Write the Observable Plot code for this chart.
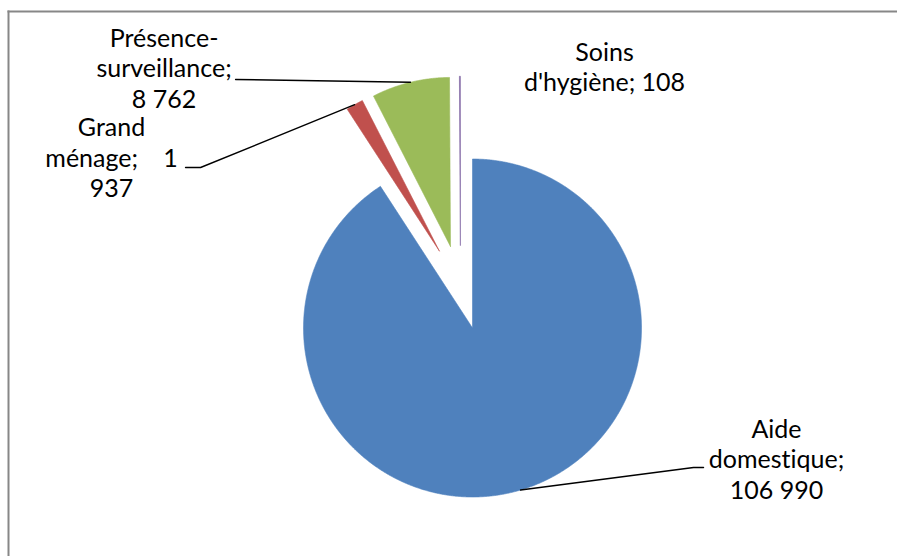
<!DOCTYPE html>
<html><head><meta charset="utf-8">
<script src="https://cdn.jsdelivr.net/npm/d3@7"></script>
<script src="https://cdn.jsdelivr.net/npm/@observablehq/plot@0.6"></script>
<style>body{margin:0;background:#fff;} svg text{font-variant-ligatures:none;font-feature-settings:"liga" 0;}</style>
</head><body><div id="chart"></div>
<script>
// ---- data ----
const categories = ["Aide domestique", "Grand ménage", "Présence-surveillance", "Soins d'hygiène"];
const values = [106990, 1937, 8762, 108];
const colors = ["#4F81BD", "#C0504D", "#9BBB59", "#8064A2"];
// words on each wrapped line of a data label
const lineWords = [[1, 1, 2], [1, 2, 1], [1, 1, 2], [1, 2]];
const wordGap = [" ", " \u2003", " ", " "];
// label placement in pie radii from pie centre (x right, y up): centre x, last baseline y
const labelX = [1.870, -2.065, -1.754, 0.852];
const labelY = [-1.249, 0.533, 1.065, 1.160];
// leader-line elbows in pie radii (from label side)
const leaderElbows = [[[1.438, -1.065], [1.379, -1.065]], [[-1.627, 0.710], [-1.538, 0.710]], [[-1.331, 1.231]], null];

// ---- layout ----
const W = 897, H = 556, R = 169, CX = 460, CY = 287, explode = 0.25;
const mTop = 11, mLeft = 8;
const fontFamily = "Lato, sans-serif", fontSize = 25, lineGap = 30.5;

const fmt = v => d3.format(",")(v).replace(/,/g, " ");
const arcs = d3.pie().sort(null)(values);

const slicePts = [];
const leaderPts = [];
arcs.forEach((a, i) => {
  const mid = (a.startAngle + a.endAngle) / 2;
  const ox = explode * Math.sin(mid), oy = explode * Math.cos(mid);
  const cat = categories[i];
  slicePts.push({cat, x: ox, y: oy});
  const n = Math.max(2, Math.ceil((a.endAngle - a.startAngle) / 0.005));
  for (let k = 0; k <= n; ++k) {
    const t = a.startAngle + (a.endAngle - a.startAngle) * k / n;
    slicePts.push({cat, x: ox + Math.sin(t), y: oy + Math.cos(t)});
  }
  slicePts.push({cat, x: ox, y: oy});
  if (leaderElbows[i]) {
    leaderElbows[i].forEach(([x, y]) => leaderPts.push({cat, x, y}));
    leaderPts.push({cat, x: ox + Math.sin(mid), y: oy + Math.cos(mid)});
  }
});

const labels = categories.map((c, i) => {
  const words = `${c.replace("-", "- ")}; ${fmt(values[i])}`.split(" ");
  let k = 0;
  const lines = lineWords[i].map(n => {
    const w = words.slice(k, k + n); k += n;
    return w.join(wordGap[i]).replace("- ", "-");
  });
  return {x: labelX[i], y: labelY[i], text: lines.join("\n").replace("- ", "-")};
});

const chart = Plot.plot({
  width: W, height: H,
  marginTop: mTop, marginLeft: mLeft, marginRight: 0, marginBottom: 0,
  x: {domain: [(mLeft - CX) / R, (W - CX) / R], axis: null},
  y: {domain: [(CY - H) / R, (CY - mTop) / R], axis: null},
  color: {domain: categories, range: colors},
  style: {background: "#fff"},
  marks: [
    Plot.frame({anchor: "top", stroke: "#878787", strokeWidth: 2}),
    Plot.frame({anchor: "left", stroke: "#878787", strokeWidth: 2}),
    Plot.line(slicePts, {x: "x", y: "y", z: "cat", fill: "cat", stroke: "cat", strokeWidth: 0.6, curve: "linear"}),
    Plot.line(leaderPts, {x: "x", y: "y", z: "cat", stroke: "#000", strokeWidth: 1.4, curve: "linear"}),
    Plot.text(labels, {x: "x", y: "y", text: "text", lineAnchor: "bottom", textAnchor: "middle",
      fontSize, fontFamily, lineHeight: lineGap / fontSize, fill: "#000"})
  ]
});
document.getElementById("chart").append(chart);
</script>
</body></html>
